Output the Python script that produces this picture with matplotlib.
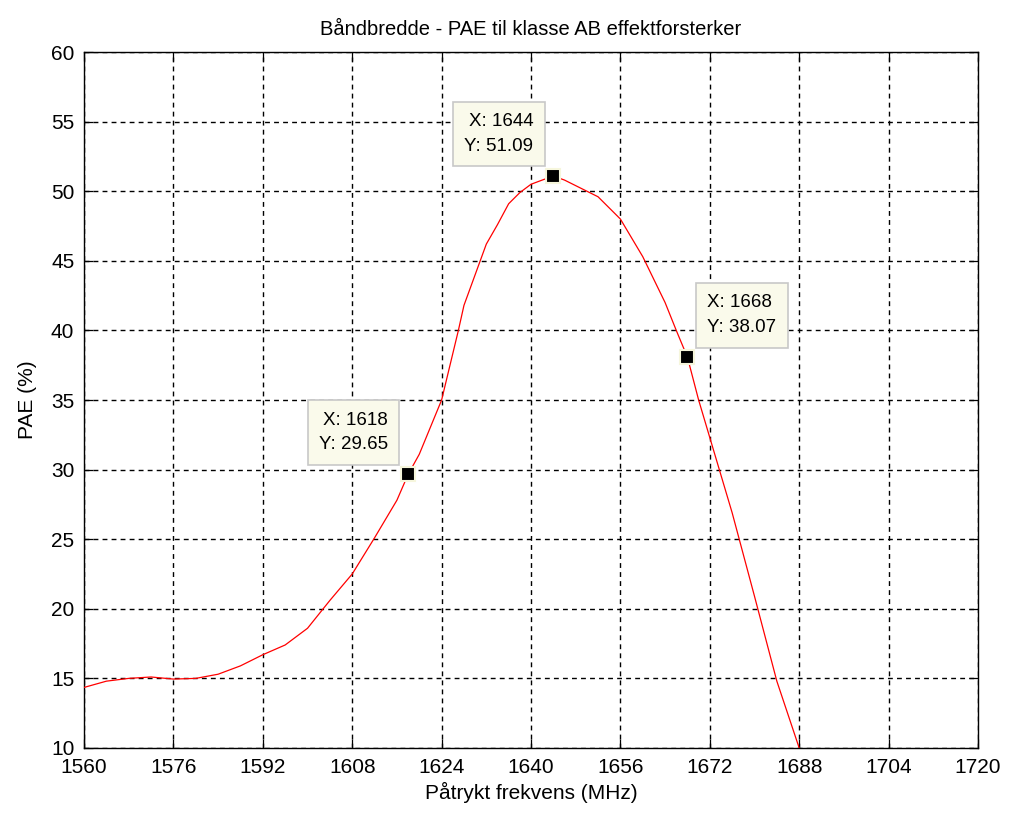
import matplotlib
matplotlib.use("Agg")
import matplotlib.pyplot as plt

plt.rcParams['font.family'] = ['Liberation Sans', 'DejaVu Sans']

freq = [1560, 1564, 1568, 1572, 1576, 1580, 1584, 1588, 1592, 1596, 1600, 1604,
        1608, 1612, 1616, 1618, 1620, 1624, 1627, 1628, 1630, 1632, 1634, 1636,
        1638, 1640, 1642, 1644, 1646, 1648, 1652, 1656, 1660, 1664, 1666, 1668,
        1670, 1672, 1676, 1680, 1684, 1688]
pae = [14.35, 14.8, 15.0, 15.1, 14.95, 15.0, 15.3, 15.9, 16.7, 17.4, 18.6, 20.6,
       22.5, 25.1, 27.8, 29.65, 31.1, 35.0, 40.0, 41.8, 44.0, 46.2, 47.6, 49.1,
       49.9, 50.5, 50.8, 51.09, 50.8, 50.4, 49.6, 48.0, 45.3, 42.0, 40.0, 38.07,
       35.0, 32.3, 26.9, 20.9, 14.8, 10.0]

tip_x = [1618, 1644, 1668]
tip_y = [29.65, 51.09, 38.07]
tip_side = ['left', 'left', 'right']

xticks = list(range(1560, 1721, 16))
yticks = list(range(10, 61, 5))

fig = plt.figure(figsize=(10.10, 8.18), dpi=100)
ax = fig.add_axes([0.0832, 0.0856, 0.8851, 0.8508])

ax.plot(freq, pae, color='red', lw=0.9, zorder=3)

ax.set_xlim(1560, 1720)
ax.set_ylim(10, 60)
ax.set_xticks(xticks)
ax.set_yticks(yticks)
ax.grid(True, color='black', linestyle=(0, (3.5, 3)), linewidth=1.0)
ax.tick_params(direction='in', length=6.5, width=0.9, labelsize=15, pad=7,
               top=True, right=True, colors='black')
for s in ax.spines.values():
    s.set_linewidth(1.0)

ax.set_title('Båndbredde - PAE til klasse AB effektforsterker', fontsize=14.5, pad=12)
ax.set_xlabel('Påtrykt frekvens (MHz)', fontsize=15, labelpad=4)
ax.set_ylabel('PAE (%)', fontsize=15, labelpad=10)

for x, y, side in zip(tip_x, tip_y, tip_side):
    ax.plot([x], [y], marker='s', ms=10.5, color='black', mec='#f6f6dc', mew=1.5,
            zorder=5, clip_on=False)
    if side == 'left':
        off = (-20, 21)
        ha = 'right'
    else:
        off = (20, 21)
        ha = 'left'
    ax.annotate(f'X: {x}\nY: {y:.2f}', xy=(x, y), xytext=off,
                textcoords='offset pixels', ha=ha, va='bottom', fontsize=13.5,
                multialignment=ha, linespacing=1.6, zorder=6,
                bbox=dict(boxstyle='square,pad=0.6', fc='#fafaeb', ec='#c8c8c8', lw=1.2))

fig.savefig('out.png', dpi=100)
